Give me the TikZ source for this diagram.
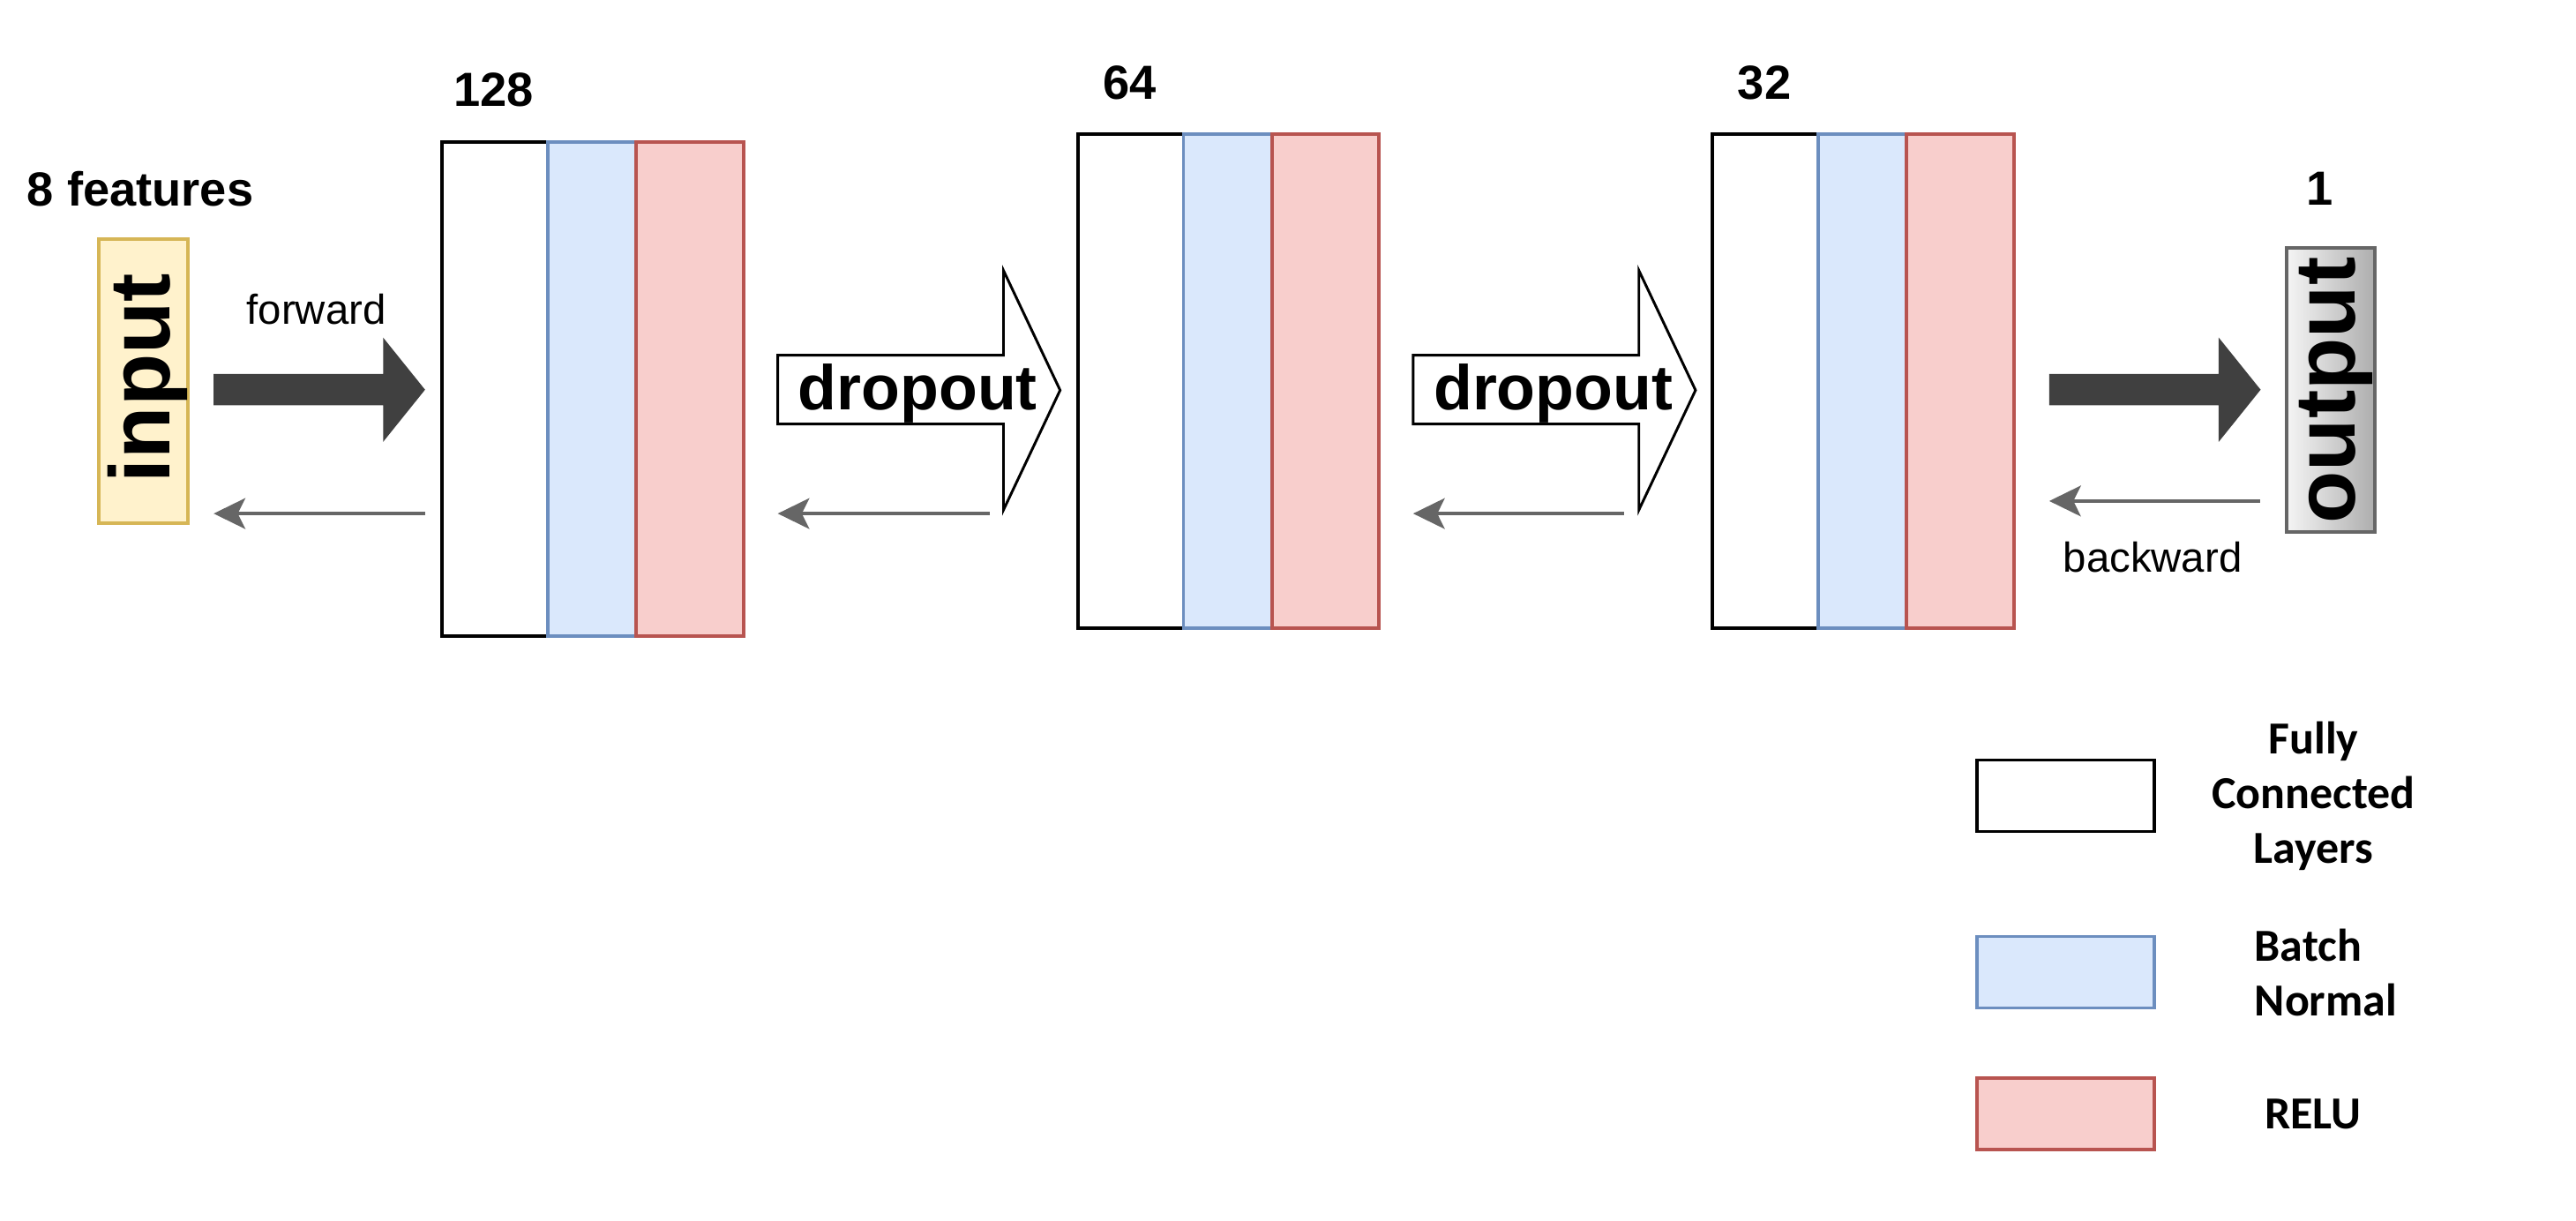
\documentclass[tikz,border=0pt]{standalone}
\usepackage{fontspec}
\setmainfont{Liberation Sans}
\newfontfamily\legendfont{Carlito}
\usetikzlibrary{arrows.meta}

\definecolor{inyellow}{HTML}{FFF2CC}
\definecolor{inline}{HTML}{D6B656}
\definecolor{bnfill}{HTML}{DAE8FC}
\definecolor{bnline}{HTML}{6C8EBF}
\definecolor{relufill}{HTML}{F8CECC}
\definecolor{reluline}{HTML}{B85450}
\definecolor{fwdgray}{HTML}{404040}
\definecolor{backgray}{HTML}{666666}
\definecolor{outleft}{HTML}{F5F5F5}
\definecolor{outright}{HTML}{ADADAD}

\tikzset{
  layer/.style={line width=1.2pt,outer sep=0pt,inner sep=0pt,minimum height=5.99cm},
  layerfc/.style={layer,draw=black,fill=white,minimum width=1.28cm},
  layerbn/.style={layer,draw=bnline,fill=bnfill,minimum width=1.07cm},
  layerrelu/.style={layer,draw=reluline,fill=relufill,minimum width=1.3cm},
  backarr/.style={draw=backgray,line width=1.1pt,-{Stealth[length=10.9pt,width=10.6pt,inset=2.6pt]}},
  droparr/.style={draw=black,fill=white,line width=0.9pt,line join=miter},
  sizelbl/.style={font=\bfseries\fontsize{16.5}{20}\selectfont,anchor=base},
  dirlbl/.style={font=\fontsize{14.4}{17}\selectfont,anchor=base},
  droplbl/.style={font=\bfseries\fontsize{21.8}{26}\selectfont,anchor=base},
  iolbl/.style={font=\bfseries\fontsize{29.5}{35}\selectfont,anchor=base,rotate=90},
  legbox/.style={minimum width=2.146cm,minimum height=0.866cm,line width=1.1pt,inner sep=0pt,outer sep=0pt,anchor=north west},
  legtext/.style={font=\legendfont\bfseries\fontsize{15.8}{18.9}\selectfont,anchor=base},
}

\begin{document}
\begin{tikzpicture}[x=0.02cm,y=-0.02cm]
\useasboundingbox (0,0) rectangle (1560,739.4);

% input and output
\node[draw=inline,fill=inyellow,line width=1.2pt,minimum width=1.084cm,minimum height=3.442cm,inner sep=0pt] (inbox) at (86.9,230.85) {};
\node[iolbl] (intext) at (103,229) {input};
\node[sizelbl] (infeat) at (85,124.5) {8 features};
\node[draw=backgray,left color=outleft,right color=outright,line width=1.2pt,minimum width=1.078cm,minimum height=3.436cm,inner sep=0pt] (outbox) at (1411.45,236.1) {};
\node[iolbl] (outtext) at (1426,236.4) {output};
\node[sizelbl] (outsize) at (1405,124) {1};

% layers
\foreach \bx/\by/\n/\sz in {267.7/85.8/1/128, 652.7/81.1/2/64, 1037.2/81.1/3/32}{
  \node[layerfc,anchor=north west] (fc\n) at (\bx,\by) {};
  \node[layerbn,anchor=north west] (bn\n) at (fc\n.north east) {};
  \node[layerrelu,anchor=north west] (relu\n) at (bn\n.north east) {};
  \node[sizelbl] (size\n) at (\bx+31.3,\by-21.2) {\sz};
}

% forward arrows
\foreach \ax in {129.4, 1241}{
  \fill[fwdgray] (\ax,226.5) -- (\ax+102.6,226.5) -- (\ax+102.6,204.4) -- (\ax+128,236) -- (\ax+102.6,267.6) -- (\ax+102.6,245.4) -- (\ax,245.4) -- cycle;
}
\node[dirlbl] (fwdlbl) at (191.6,196.5) {forward};
\node[dirlbl] (bwdlbl) at (1303.6,346.3) {backward};

% dropout arrows
\foreach \ax/\n in {471/1, 855.8/2}{
  \draw[droparr] (\ax,215.1) -- (\ax+136.7,215.1) -- (\ax+136.7,163.8) -- (\ax+171,236.3) -- (\ax+136.7,308.8) -- (\ax+136.7,256.8) -- (\ax,256.8) -- cycle;
  \node[droplbl] (drop\n) at (\ax+84.8,248) {dropout};
}

% backward arrows
\coordinate (bk1s) at (257.6,311);
\coordinate (bk1e) at (129.4,311);
\coordinate (bk2s) at (599.5,311);
\coordinate (bk2e) at (471,311);
\coordinate (bk3s) at (983.5,311);
\coordinate (bk3e) at (855.8,311);
\coordinate (bk4s) at (1368.5,303.4);
\coordinate (bk4e) at (1241,303.4);
\draw[backarr] (bk1s) -- (bk1e);
\draw[backarr] (bk2s) -- (bk2e);
\draw[backarr] (bk3s) -- (bk3e);
\draw[backarr] (bk4s) -- (bk4e);

% legend
\node[legbox,draw=black,fill=white] (legfc) at (1197.4,460.2) {};
\node[legbox,draw=bnline,fill=bnfill] (legbn) at (1197.4,567) {};
\node[legbox,draw=reluline,fill=relufill] (legrelu) at (1197.4,652.7) {};
\node[legtext,align=center] (legfctext) at (1401,523) {Fully\\Connected\\Layers};
\node[legtext,align=left,anchor=base west] (legbntext) at (1359.2,615) {Batch\\Normal};
\node[legtext] (legrelutext) at (1400.7,683.8) {RELU};
\end{tikzpicture}
\end{document}
